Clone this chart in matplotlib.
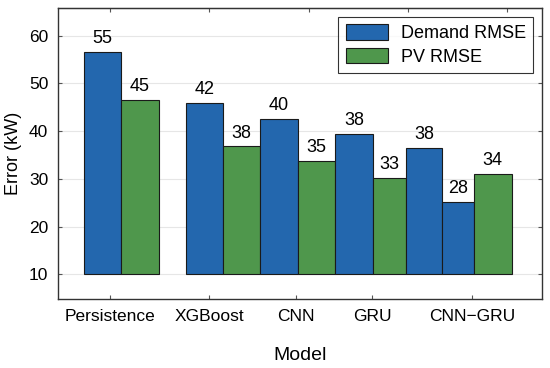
import numpy as np
import matplotlib
matplotlib.use("Agg")
import matplotlib.pyplot as plt

plt.rcParams['font.family'] = ['Liberation Sans', 'DejaVu Sans']

# data
models = ['Persistence', 'XGBoost', 'CNN', 'GRU', 'CNN\u2212GRU']
demand_rmse = [56.6, 46.0, 42.5, 39.5, 36.5, 25.1]
demand_labels = ['55', '42', '40', '38', '38', '28']
pv_rmse = [46.5, 36.8, 33.75, 30.1, 31.1]
pv_labels = ['45', '38', '35', '33', '34']

# layout: bar left edges (in x units) in drawing order, as in the original figure
order = ['d', 'p', 'd', 'p', 'd', 'p', 'd', 'p', 'd', 'd', 'p']
edges = [0.738, 1.108, 1.766, 2.142, 2.511, 2.891, 3.270, 3.647, 3.979, 4.348, 4.667]
right_ends = [1.108, 1.491, 2.142, 2.511, 2.891, 3.270, 3.647, 3.979, 4.348, 4.667, 5.047]
bottom_ticks = [1.0, 2.0, 2.877, 3.64, 4.647]
top_ticks = [1, 2, 3, 4, 5]

blue = '#2367ae'
green = '#4f974c'

fig = plt.figure(figsize=(5.5, 3.68), dpi=100)
ax = fig.add_axes([0.1055, 0.1875, 0.88, 0.7905])

di, pi = 0, 0
for kind, left, right in zip(order, edges, right_ends):
    if kind == 'd':
        val, lab, col = demand_rmse[di], demand_labels[di], blue
        di += 1
    else:
        val, lab, col = pv_rmse[pi], pv_labels[pi], green
        pi += 1
    ax.bar(left, val - 10, width=right - left, bottom=10, align='edge',
           color=col, edgecolor='#1a1a1a', linewidth=0.8, zorder=3)
    ax.annotate(lab, ((left + right) / 2, val), xytext=(0, 3.5),
                textcoords='offset points', ha='center', va='bottom',
                fontsize=13, zorder=4)

# legend proxies
ax.bar([0], [0], color=blue, edgecolor='#1a1a1a', linewidth=0.8, label='Demand RMSE')
ax.bar([0], [0], color=green, edgecolor='#1a1a1a', linewidth=0.8, label='PV RMSE')
leg = ax.legend(loc='upper right', fontsize=13, frameon=True, fancybox=False,
                handlelength=2.35, handleheight=0.95, borderaxespad=0.5,
                borderpad=0.4, labelspacing=0.3, handletextpad=0.7)
leg.get_frame().set_edgecolor('black')
leg.get_frame().set_linewidth(0.8)

ax.set_xlim(0.476, 5.353)
ax.set_ylim(4.8, 65.8)
ax.set_yticks([10, 20, 30, 40, 50, 60])
ax.set_xticks(bottom_ticks)
ax.set_xticklabels(models)
ax.tick_params(direction='in', length=3, labelsize=12.5, right=True,
               color='#555555', pad=7)
ax.yaxis.grid(True, color='#e6e6e6', linewidth=0.8, zorder=0)

top = ax.secondary_xaxis('top')
top.set_xticks(top_ticks)
top.set_xticklabels([])
top.tick_params(direction='in', length=3, color='#555555')

for s in ax.spines.values():
    s.set_color('#333333')
    s.set_linewidth(1.0)
top.spines['top'].set_color('#333333')

ax.set_xlabel('Model', fontsize=14, labelpad=17)
ax.set_ylabel('Error (kW)', fontsize=13, labelpad=5)

fig.savefig('out.png', dpi=100)
